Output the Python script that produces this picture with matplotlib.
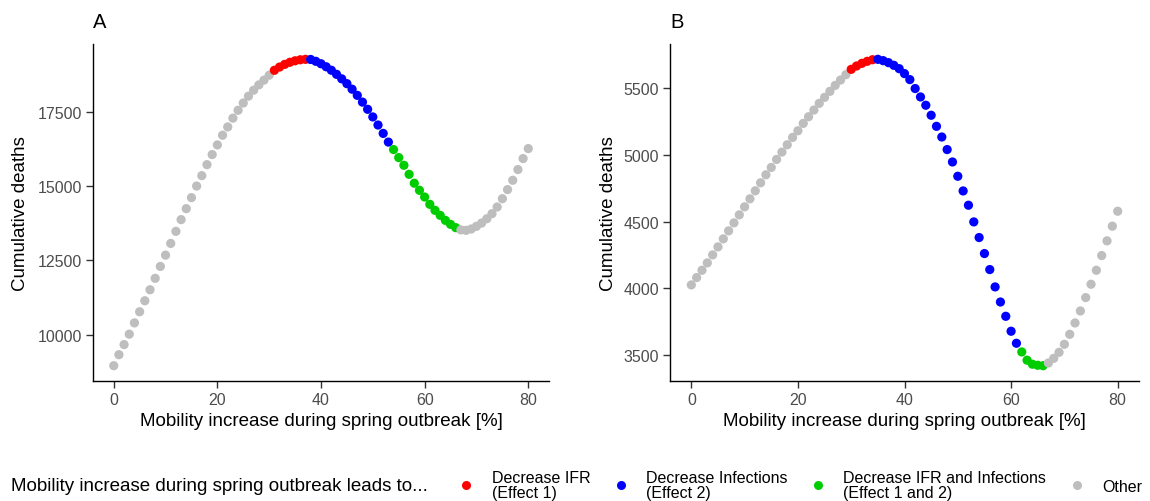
import matplotlib
matplotlib.use("Agg")
import matplotlib.pyplot as plt
from matplotlib.lines import Line2D

plt.rcParams['font.family'] = ['Liberation Sans', 'DejaVu Sans']

# mobility increase [%]
mobility = list(range(0, 81))

# panel A: cumulative deaths
deaths_a = [8960, 9330, 9670, 10020, 10400, 10775, 11145, 11515, 11900, 12300,
            12680, 13075, 13480, 13875, 14245, 14615, 15005, 15355, 15725, 16065,
            16390, 16715, 16995, 17290, 17555, 17800, 18030, 18230, 18410, 18570,
            18735, 18900, 19010, 19100, 19170, 19220, 19255, 19270,
            19265, 19203, 19121, 19019, 18902, 18765, 18613, 18451, 18264, 18057,
            17830, 17588, 17331, 17059, 16777, 16485,
            16233, 15963, 15704, 15400, 15100, 14862, 14636, 14390, 14188, 14019,
            13851, 13716, 13605,
            13530, 13515, 13560, 13650, 13760, 13905, 14075, 14300, 14580, 14885,
            15200, 15560, 15930, 16265]

# panel B: cumulative deaths
deaths_b = [4025, 4080, 4135, 4190, 4250, 4310, 4370, 4430, 4490, 4550,
            4610, 4670, 4730, 4790, 4850, 4905, 4965, 5020, 5075, 5130,
            5180, 5235, 5285, 5335, 5385, 5430, 5475, 5520, 5560, 5600,
            5640, 5665, 5685, 5700, 5712,
            5715, 5705, 5690, 5670, 5645, 5608, 5563, 5496, 5433, 5371,
            5296, 5213, 5133, 5039, 4946, 4839, 4729, 4622, 4497, 4380,
            4260, 4140, 4010, 3897, 3790, 3678, 3588,
            3523, 3461, 3431, 3423, 3420,
            3440, 3475, 3520, 3580, 3655, 3740, 3830, 3930, 4030, 4135,
            4245, 4355, 4465, 4577]

yticks_a = [10000, 12500, 15000, 17500]
yticks_b = [3500, 4000, 4500, 5000, 5500]
xticks = [0, 20, 40, 60, 80]

# effect class per point (run lengths)
effect_a = ["Other"] * 31 + ["Effect 1"] * 7 + ["Effect 2"] * 16 + ["Effect 12"] * 13 + ["Other"] * 14
effect_b = ["Other"] * 30 + ["Effect 1"] * 5 + ["Effect 2"] * 27 + ["Effect 12"] * 5 + ["Other"] * 14

classes = ["Effect 1", "Effect 2", "Effect 12", "Other"]
class_labels = ["Decrease IFR\n(Effect 1)", "Decrease Infections\n(Effect 2)",
                "Decrease IFR and Infections\n(Effect 1 and 2)", "Other"]
colors = {"Effect 1": "#FF0000", "Effect 2": "#0000FF", "Effect 12": "#00CD00", "Other": "#BEBEBE"}

W, H = 1150, 502
fig = plt.figure(figsize=(W / 100, H / 100), dpi=100)


def panel(rect, y, eff, yticks, letter, ylab_x):
    ax = fig.add_axes(rect)
    ax.scatter(mobility, y, c=[colors[e] for e in eff], s=44, linewidths=0, zorder=3)
    ax.set_xlim(-4, 84)
    lo, hi = min(y), max(y)
    pad = (hi - lo) * 0.05
    ax.set_ylim(lo - pad, hi + pad)
    ax.set_xticks(xticks)
    ax.set_yticks(yticks)
    for s in ['top', 'right']:
        ax.spines[s].set_visible(False)
    for s in ['left', 'bottom']:
        ax.spines[s].set_linewidth(1.0)
        ax.spines[s].set_color('black')
    ax.tick_params(length=5, width=1.0, color='#333333', labelsize=11.5,
                   labelcolor='#4D4D4D', pad=3)
    ax.set_xlabel("Mobility increase during spring outbreak [%]", fontsize=13.5)
    ax.set_ylabel("Cumulative deaths", fontsize=13.5)
    ax.xaxis.set_label_coords(0.5, -0.093)
    ax.yaxis.set_label_coords(ylab_x, 0.5)
    fig.text(rect[0], 1 - 22 / H, letter, fontsize=14.5, ha='left', va='center')
    return ax


panel([93 / W, 1 - 382 / H, 456 / W, 337 / H], deaths_a, effect_a, yticks_a, "A", -0.140)
panel([670 / W, 1 - 382 / H, 469 / W, 337 / H], deaths_b, effect_b, yticks_b, "B", -0.112)

# legend at bottom
fig.text(11 / W, 1 - 487 / H, "Mobility increase during spring outbreak leads to...",
         fontsize=13.5, ha='left', va='center')
handles = [Line2D([], [], marker='o', linestyle='none', markersize=6.5,
                  markerfacecolor=colors[c], markeredgewidth=0) for c in classes]
leg = fig.legend(handles, class_labels, ncol=4, loc='center left',
                 bbox_to_anchor=(458 / W, 1 - 486 / H), frameon=False,
                 fontsize=11.5, handlelength=1.0, handletextpad=1.1,
                 columnspacing=1.4, borderpad=0, borderaxespad=0)
for t in leg.get_texts():
    t.set_linespacing(1.0)

fig.savefig("out.png", dpi=100)
